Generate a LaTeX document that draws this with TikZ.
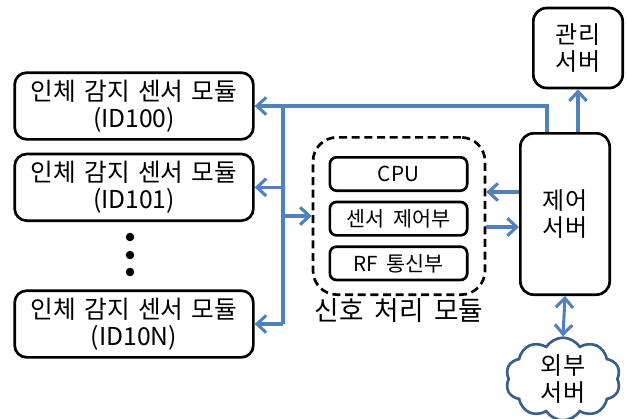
\documentclass[tikz,border=0pt]{standalone}
\usepackage{fontspec}
\setmainfont{Noto Sans CJK KR}
\newfontfamily\widekr[WordSpace=2.6]{Noto Sans CJK KR}
\newfontfamily\labelkr[WordSpace=1.8]{Noto Sans CJK KR}
\usepackage{xcolor}
\usepackage{tikz}
\usetikzlibrary{shapes.symbols, arrows.meta, positioning}

\definecolor{busblue}{HTML}{4F81BD}
\definecolor{cloudblue}{HTML}{3A5F8C}

\begin{document}
\begin{tikzpicture}[x=0.75pt, y=-0.75pt]
\tikzstyle{sensor} = [rectangle, draw, line width=2pt, text width=175pt, align=center, minimum width=179pt, minimum height=50pt, rounded corners=9pt, font=\widekr\fontsize{18.5}{20}\selectfont, inner sep=0pt]
\tikzstyle{server} = [rectangle, draw, line width=2pt, align=center, minimum width=67pt, rounded corners=10pt, font=\widekr\fontsize{18}{20}\selectfont]
\tikzstyle{part} = [rectangle, draw, line width=2pt, minimum width=103pt, minimum height=25pt, rounded corners=5pt, font=\labelkr\fontsize{15.5}{15}\selectfont, inner sep=0pt]
\tikzstyle{bus} = [draw=busblue, line width=2.3pt]
\tikzstyle{arr} = [bus, -{Straight Barb[length=7pt, width=13pt, line width=2.3pt]}]

\useasboundingbox (0,0) rectangle (627,418);

% sensor modules
\node (s1) [sensor] at (134,106) {인체 감지 센서 모듈\\(ID100)};
\node (s2) [sensor, below=9pt of s1] {인체 감지 센서 모듈\\(ID101)};
\node (s3) [sensor] at (134,324) {인체 감지 센서 모듈\\(ID10N)};
\foreach \y in {237,255,272}
  \fill (130,\y) circle (3.2pt);

% signal processing module
\node (sig) [draw, dashed, dash pattern=on 6pt off 3.5pt, line width=2pt, rounded corners=18pt, minimum width=129pt, minimum height=118pt] at (399,216) {};
\node (cpu) [part] at (398.5,174) {CPU};
\node (ctl) [part, below=6.5pt of cpu] {센서 제어부};
\node (rf) [part, below=6.5pt of ctl] {RF 통신부};
\node (siglabel) [below=-2pt of sig, font=\labelkr\fontsize{20}{20}\selectfont] {신호 처리 모듈};

% servers
\node (ctrl) [server, minimum height=121pt] at (565,214) {제어\\서버};
\node (mgmt) [server, minimum height=60pt] at (578,48) {관리\\서버};
\node (ext) [cloud, draw=cloudblue, line width=2pt, cloud puffs=10, cloud puff arc=115, aspect=1.3, minimum width=86pt, minimum height=62pt, align=center, font=\widekr\fontsize{18}{20}\selectfont, inner sep=0pt] at (563,379) {외부\\서버};

% connections
\coordinate (bt) at (283,106);
\coordinate (bb) at (283,324);
\draw[arr] ([xshift=-13.5pt]ctrl.north) |- (s1.east);
\draw[bus] (bt) -- (bb);
\draw[arr] (bb) -- (s3.east);
\draw[arr] (bt |- s2.east) -- (s2.east);
\draw[arr] (bt |- sig.west) -- (sig.west);
\draw[arr] (ctrl.west |- 0,192) -- (sig.east |- 0,192);
\draw[arr] (sig.east |- 0,227) -- (ctrl.west |- 0,227);
\draw[arr] (mgmt.south |- ctrl.north) -- (mgmt.south);
\draw[bus, {Straight Barb[length=7pt, width=13pt, line width=2.3pt]}-{Straight Barb[length=7pt, width=13pt, line width=2.3pt]}] (ctrl.south) -- (ext.north);

\end{tikzpicture}
\end{document}
